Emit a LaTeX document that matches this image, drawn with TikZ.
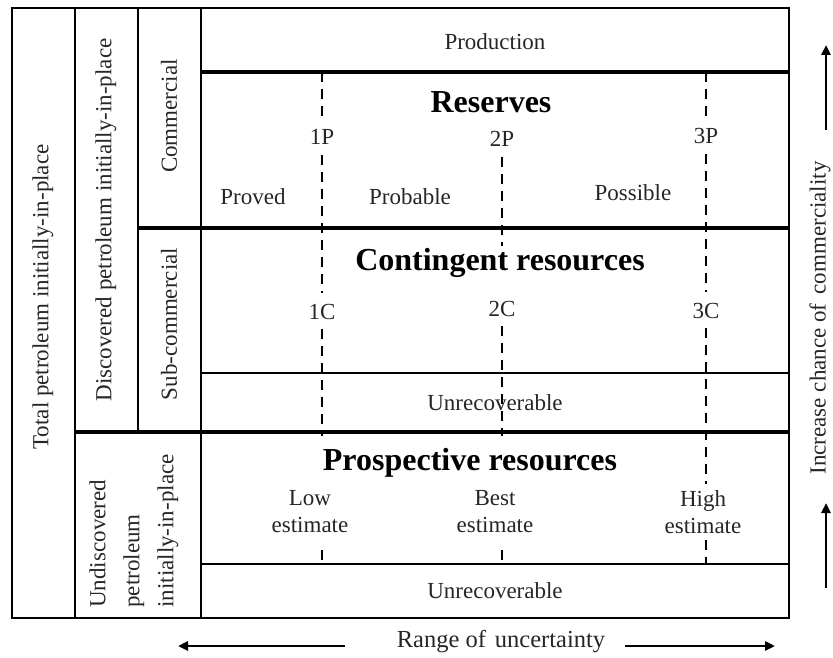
\documentclass[tikz,border=0pt]{standalone}
\usepackage{fontspec}
\setmainfont{Liberation Serif}
\usetikzlibrary{arrows.meta}
\begin{document}
\begin{tikzpicture}[x=1pt,y=-1pt,
  txt/.style={font=\fontsize{23}{27}\selectfont, text=black!85, inner sep=2pt},
  ttl/.style={font=\fontsize{32}{36}\selectfont\bfseries, text=black, inner sep=2pt},
  tag/.style={txt, text height=16pt, text depth=0pt, inner ysep=10pt, inner xsep=2pt},
  est/.style={txt, align=center, inner ysep=6pt},
  divider/.style={line width=2.4pt, dash pattern=on 10pt off 7pt},
  frame/.style={line width=2.6pt},
  heavyrule/.style={line width=3.4pt},
  lightrule/.style={line width=2pt},
  arr/.style={line width=2.5pt, -{Triangle[length=10pt,width=9pt]}}
]
\useasboundingbox (0,0) rectangle (833,658);

% grid
\draw[lightrule] (75,8) -- (75,618);
\draw[lightrule] (138,8) -- (138,431);
\draw[lightrule] (201,8) -- (201,618);
\draw[heavyrule] (201,72) -- (789,72);
\draw[heavyrule] (138,228) -- (789,228);
\draw[lightrule] (201,373) -- (789,373);
\draw[heavyrule] (75,432) -- (789,432);
\draw[line width=2.6pt] (201,564) -- (789,564);
\draw[frame] (12,8) rectangle (789,618);

% left labels
\node[txt, rotate=90] (total) at (43,297) {Total petroleum initially-in-place};
\node[txt, rotate=90] (disc) at (106,220) {Discovered petroleum initially-in-place};
\node[txt, rotate=90] (comm) at (169,116) {Commercial};
\node[txt, rotate=90] (subc) at (169,324) {Sub-commercial};
\node[txt, rotate=90, align=left, font=\fontsize{23}{34}\selectfont] (undisc) at (134,531)
  {Undiscovered\\petroleum\\initially-in-place};

% right area texts
\node[txt] (prod) at (495,42) {Production};
\node[ttl] (res) at (491,102) {Reserves};
\node[tag] (p1) at (322,137) {1P};
\node[tag] (p2) at (502,139) {2P};
\node[tag] (p3) at (706,136) {3P};
\node[txt] (proved) at (253,197) {Proved};
\node[txt] (probable) at (410,197) {Probable};
\node[txt] (possible) at (633,193) {Possible};
\node[ttl] (cont) at (500,263) {Contingent resources};
\node[tag] (c1) at (322,311) {1C};
\node[tag] (c2) at (502,308) {2C};
\node[tag] (c3) at (706,310) {3C};
\node[txt] (unrec1) at (495,403) {Unrecoverable};
\node[ttl] (prosp) at (470,463) {Prospective resources};
\node[est] (low) at (310,512) {Low\\estimate};
\node[est] (best) at (495,512) {Best\\estimate};
\node[est] (high) at (703,512) {High\\estimate};
\node[txt] (unrec2) at (495,591) {Unrecoverable};

% dashed dividers
\coordinate (a1) at (322,72);
\coordinate (a2) at (322,436);
\coordinate (a3) at (322,550);
\coordinate (a4) at (322,564);
\coordinate (b2) at (502,436);
\coordinate (b3) at (502,550);
\coordinate (b4) at (502,564);
\coordinate (d1) at (706,72);
\coordinate (d4) at (706,564);
\draw[divider] (a1) -- (p1.north);
\draw[divider] (p1.south) -- (c1.north);
\draw[divider] (c1.south) -- (a2);
\draw[divider] (a3) -- (a4);
\draw[divider] (p2.south) -- (p2.south |- cont.north);
\draw[divider] (c2.south) -- (b2);
\draw[divider] (b3) -- (b4);
\draw[divider] (d1) -- (p3.north);
\draw[divider] (p3.south) -- (c3.north);
\draw[divider] (c3.south) -- (d1 |- high.north);
\draw[divider] (d1 |- high.south) -- (d4);

% commerciality axis
\node[txt, rotate=90, inner sep=0pt] (incr) at (820,318) {Increase chance of\hspace{9pt}commerciality};
\coordinate (u1) at (826,130);
\coordinate (u2) at (826,45);
\coordinate (l1) at (826,588);
\coordinate (l2) at (826,503);
\draw[arr] (u1) -- (u2);
\draw[arr] (l1) -- (l2);

% uncertainty axis
\node[txt, font=\fontsize{24.5}{28}\selectfont] (range) at (501,642) {Range of\hspace{9pt}uncertainty};
\coordinate (r1) at (345,646);
\coordinate (r2) at (178,646);
\coordinate (r3) at (625,646);
\coordinate (r4) at (775,646);
\draw[arr] (r1) -- (r2);
\draw[arr] (r3) -- (r4);
\end{tikzpicture}
\end{document}
